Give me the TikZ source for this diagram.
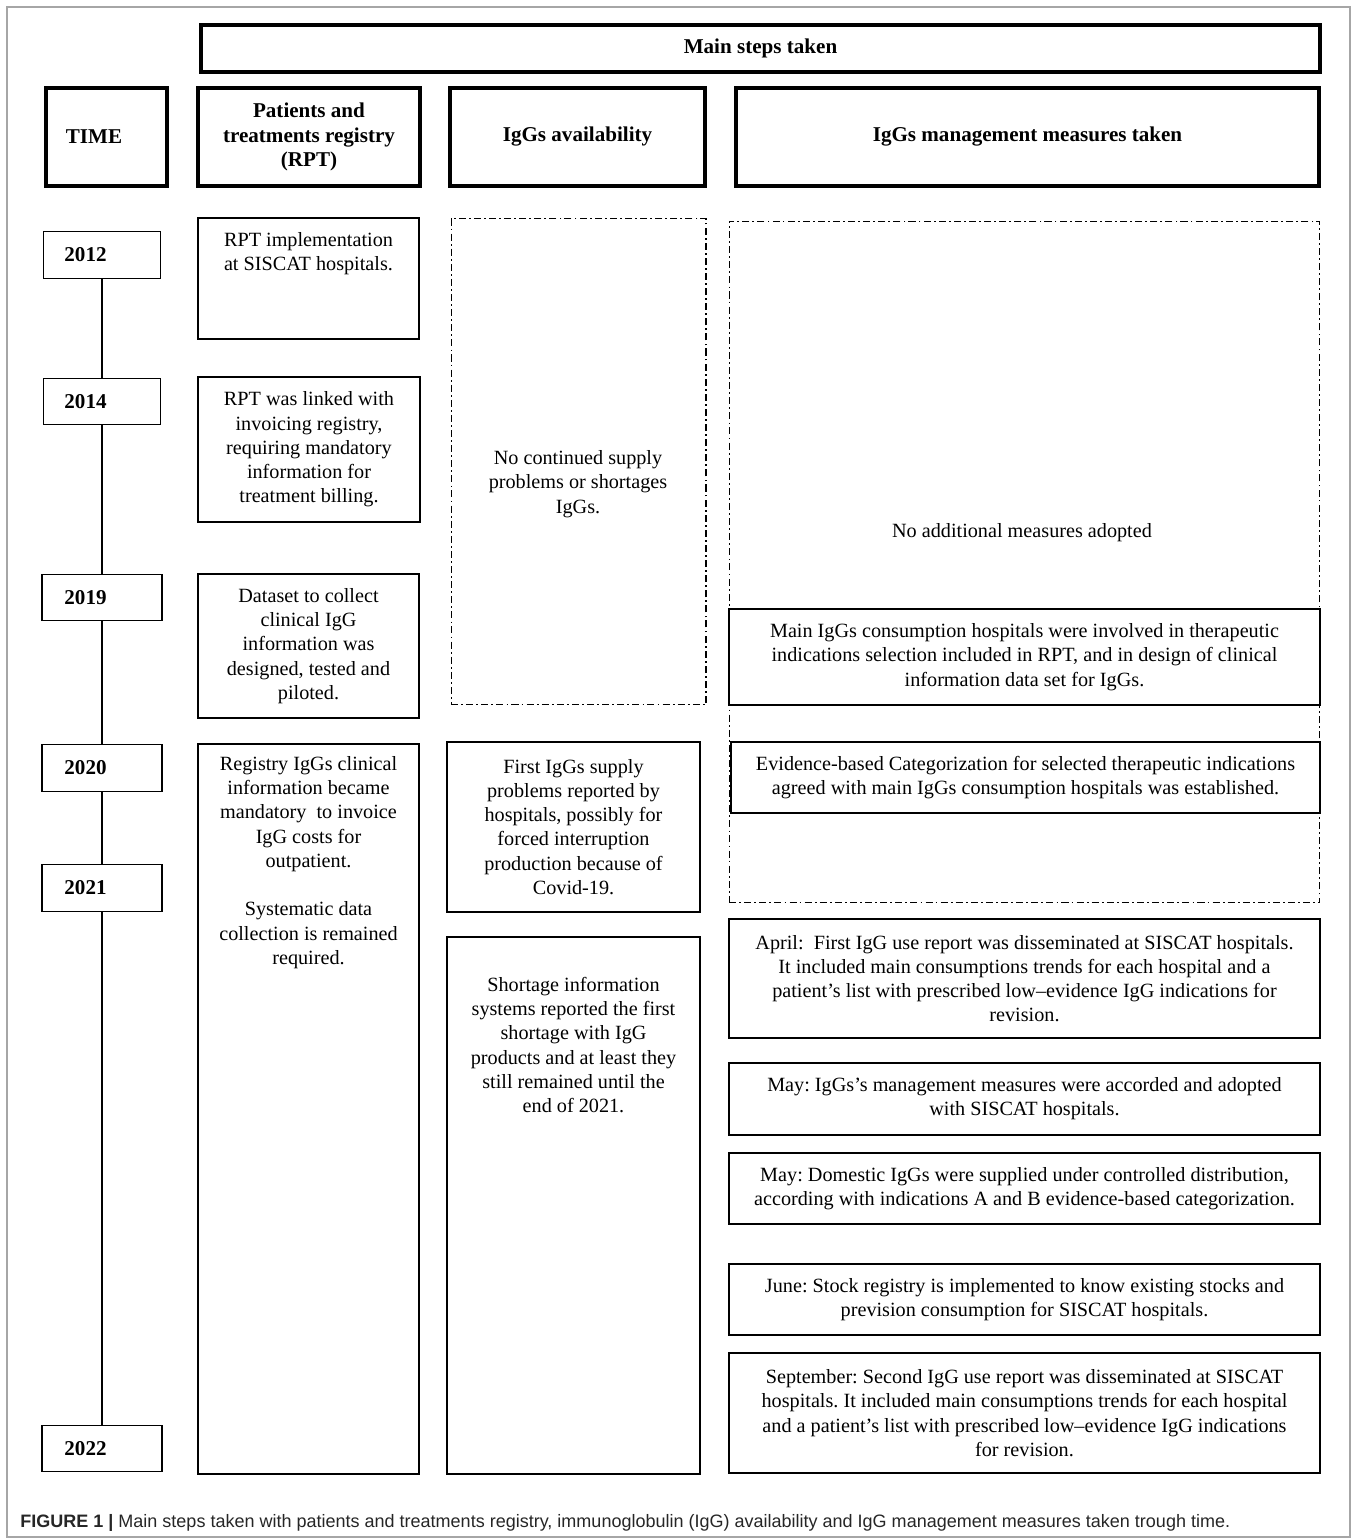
\documentclass[tikz,border=0pt]{standalone}
\usepackage{fontspec}
\setmainfont{Liberation Serif}
\setsansfont{Liberation Sans}
\usetikzlibrary{positioning}
\newcommand\stepfont{\fontsize{11.5}{13.8}\selectfont}
\frenchspacing

\begin{document}
\begin{tikzpicture}[
    x=0.02cm, y=-0.02cm,
    head/.style={draw, line width=2.2pt, font=\fontsize{12}{14}\selectfont\bfseries, align=center, inner sep=0pt},
    yearbox/.style={draw, line width=0.8pt, font=\fontsize{12}{14}\selectfont\bfseries, minimum width=2.4cm, minimum height=0.93cm, inner sep=0pt},
    stepbox/.style={draw, line width=0.8pt, fill=white, align=center, inner sep=0pt, font=\stepfont},
    nonebox/.style={draw, line width=0.6pt, dash pattern=on 4pt off 1.8pt on 1pt off 1.8pt},
    txt/.style={align=center, inner sep=0pt, font=\stepfont},
    tline/.style={line width=0.8pt}
]
    \useasboundingbox (0,0) rectangle (1358,1540);
    \draw[gray!70, line width=0.8pt] (7,7) rectangle (1350,1537);

    % header
    \node[head, minimum width=22.38cm, minimum height=0.94cm] (main) at (760.5,48.5) {Main steps taken};
    \node[head, minimum width=2.42cm, minimum height=1.96cm] (time) at (106.5,137) {TIME\hspace*{0.5cm}};
    \node[head, minimum width=4.44cm, minimum height=1.96cm] (rpthead) at (309,137) {Patients and\\treatments registry\\(RPT)};
    \node[head, minimum width=5.1cm, minimum height=1.96cm] (avhead) at (577.5,137) {IgGs availability};
    \node[head, minimum width=11.66cm, minimum height=1.96cm] (mghead) at (1027.5,137) {IgGs management measures taken};

    % time line
    \node[yearbox, minimum width=2.34cm] (y2012) at (102,255) {2012\hspace*{0.66cm}};
    \node[yearbox, minimum width=2.34cm] (y2014) at (102,401.5) {2014\hspace*{0.66cm}};
    \node[yearbox] (y2019) at (102,597.5) {2019\hspace*{0.66cm}};
    \node[yearbox] (y2020) at (102,768) {2020\hspace*{0.66cm}};
    \node[yearbox] (y2021) at (102,888) {2021\hspace*{0.66cm}};
    \node[yearbox] (y2022) at (102,1448.5) {2022\hspace*{0.66cm}};
    \draw[tline] (y2012) -- (y2014);
    \draw[tline] (y2014) -- (y2019);
    \draw[tline] (y2019) -- (y2020);
    \draw[tline] (y2020) -- (y2021);
    \draw[tline] (y2021) -- (y2022);

    % patients and treatments registry
    \node[stepbox, minimum width=4.42cm, minimum height=2.42cm] (rpt1) at (308.5,278.5) {};
    \node[txt] (rpt1txt) at (308.5,254) {RPT implementation\\at SISCAT hospitals.};
    \node[stepbox, minimum width=4.44cm, minimum height=2.9cm] (rpt2) at (309,449.5) {RPT was linked with\\invoicing registry,\\requiring mandatory\\information for\\treatment billing.};
    \node[stepbox, minimum width=4.42cm, minimum height=2.88cm] (rpt3) at (308.5,646) {Dataset to collect\\clinical IgG\\information was\\designed, tested and\\piloted.};
    \node[stepbox, minimum width=4.42cm, minimum height=14.6cm] (rpt4) at (308.5,1109) {};
    \node[txt] (rpt4txt) at (308.5,862.5) {Registry IgGs clinical\\information became\\mandatory\ \ to invoice\\IgG costs for\\outpatient.\\[\baselineskip]Systematic data\\collection is remained\\required.};

    % IgGs availability
    \node[nonebox, minimum width=5.1cm, minimum height=9.74cm] (avnone) at (578.5,461.5) {};
    \node[txt] (avnonetxt) at (578,484) {No continued supply\\problems or shortages\\IgGs.};
    \node[stepbox, minimum width=5.06cm, minimum height=3.4cm] (av1) at (573.5,827) {First IgGs supply\\problems reported by\\hospitals, possibly for\\forced interruption\\production because of\\Covid-19.};
    \node[stepbox, minimum width=5.06cm, minimum height=10.74cm] (av2) at (573.5,1205.5) {};
    \node[txt] (av2txt) at (573.5,1045) {Shortage information\\systems reported the first\\shortage with IgG\\products and at least they\\still remained until the\\end of 2021.};

    % IgGs management measures
    \node[nonebox, minimum width=11.82cm, minimum height=13.64cm] (mgnone) at (1024.5,562) {};
    \node[txt] (mgnonetxt) at (1022,533) {No additional measures adopted};
    \node[stepbox, minimum width=11.82cm, minimum height=1.92cm] (mg1) at (1024.5,657) {Main IgGs consumption hospitals were involved in therapeutic\\indications selection included in RPT, and in design of clinical\\information data set for IgGs.};
    \node[stepbox, minimum width=11.78cm, minimum height=1.42cm] (mg2) at (1025.5,777.5) {Evidence-based Categorization for selected therapeutic indications\\agreed with main IgGs consumption hospitals was established.};
    \node[stepbox, minimum width=11.82cm, minimum height=2.38cm] (mg3) at (1024.5,978.5) {April:\ \ First IgG use report was disseminated at SISCAT hospitals.\\It included main consumptions trends for each hospital and a\\patient's list with prescribed low--evidence IgG indications for\\revision.};
    \node[stepbox, minimum width=11.82cm, minimum height=1.44cm] (mg4) at (1024.5,1099) {May: IgGs's management measures were accorded and adopted\\with SISCAT hospitals.};
    \node[stepbox, minimum width=11.82cm, minimum height=1.42cm] (mg5) at (1024.5,1188.5) {May: Domestic IgGs were supplied under controlled distribution,\\according with indications A and B evidence-based categorization.};
    \node[stepbox, minimum width=11.82cm, minimum height=1.42cm] (mg6) at (1024.5,1299.5) {June: Stock registry is implemented to know existing stocks and\\prevision consumption for SISCAT hospitals.};
    \node[stepbox, minimum width=11.82cm, minimum height=2.4cm] (mg7) at (1024.5,1413) {September: Second IgG use report was disseminated at SISCAT\\hospitals. It included main consumptions trends for each hospital\\and a patient's list with prescribed low--evidence IgG indications\\for revision.};

    % caption
    \node[anchor=west, inner sep=0pt, text=black!85, font=\sffamily\fontsize{10.25}{12}\selectfont] (caption) at (20,1523) {\textbf{FIGURE 1 |} Main steps taken with patients and treatments registry, immunoglobulin (IgG) availability and IgG management measures taken trough time.};
\end{tikzpicture}
\end{document}
